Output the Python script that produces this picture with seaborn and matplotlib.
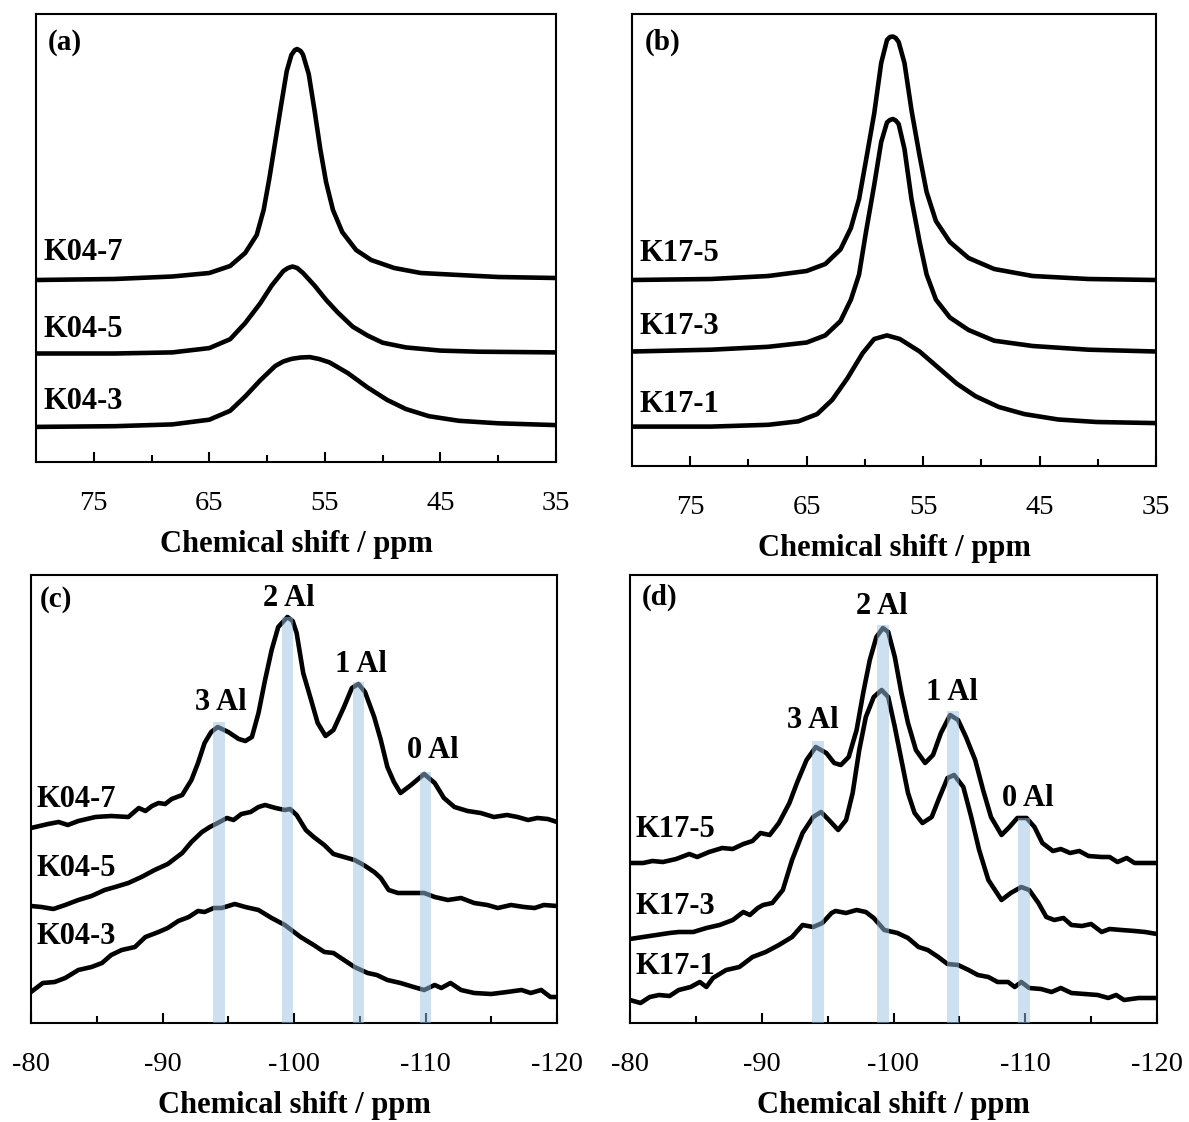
import matplotlib
matplotlib.use("Agg")
import matplotlib.pyplot as plt
import seaborn as sns
from matplotlib.ticker import FixedLocator

# ---- 27Al spectra, panel (a): K04 series ----
a_k04_7_ppm = [80.0, 73.2, 68.2, 65.0, 63.2, 61.9, 60.9, 60.3, 59.8, 59.3, 58.8, 58.3, 57.9, 57.6, 57.4,
               57.1, 56.9, 56.4, 55.9, 55.4, 54.9, 54.3, 53.5, 52.3, 51.0, 49.0, 46.7, 43.4, 40.0, 35.0]
a_k04_7_int = [182, 183, 185.5, 189, 196, 209, 227, 252, 284, 320, 356, 391, 407, 412, 413,
               411, 407.5, 388, 352, 313, 280, 252, 230, 212, 202, 194, 189, 187, 185, 184]
a_k04_5_ppm = [80.0, 73.2, 68.2, 65.0, 63.2, 61.9, 60.6, 59.6, 58.6, 58.2, 57.8, 57.4, 56.9, 55.9,
               54.9, 53.9, 52.6, 51.3, 50.0, 48.0, 45.0, 41.7, 35.0]
a_k04_5_int = [108.5, 108.5, 109.6, 113.9, 122.8, 138.9, 158.6, 176.5, 190.9, 194, 195.5, 194, 189.1, 176.5,
               162.2, 149.7, 135.4, 126.4, 119.3, 114.6, 111.4, 110.3, 109.6]
a_k04_3_ppm = [80.0, 73.2, 68.2, 65.0, 63.2, 61.9, 60.6, 59.3, 58.6, 57.9, 57.1, 56.3, 55.5, 54.6,
               53.0, 51.3, 49.6, 48.0, 46.0, 43.4, 40.0, 35.0]
a_k04_3_int = [35.1, 35.8, 37.6, 42.3, 51.2, 65.5, 81.6, 96.0, 100.5, 103.1, 104.5, 104.9, 103, 99.6,
               88.8, 74.5, 62.0, 53.0, 45.8, 41.2, 38.7, 36.9]

# ---- panel (b): K17 series ----
b_ppm = [80.0, 73.2, 68.3, 65.0, 63.4, 62.1, 61.2, 60.5, 59.9, 59.2, 58.6, 58.1, 57.85, 57.6, 57.35, 57.1,
         56.6, 56.0, 55.3, 54.7, 53.9, 52.7, 51.1, 48.9, 45.6, 40.8, 35.0]
b_k17_5_int = [186, 187, 190, 195, 202, 216.5, 238, 267, 306, 352.5, 403, 426, 429, 429.5, 428, 424,
               403, 356, 310, 274, 245, 224, 208, 197, 190, 187, 186]
b_k17_3_int = [114.5, 116.3, 119.2, 123.5, 130.6, 144.9, 166.4, 191.5, 234.4, 281, 324, 343.6, 346, 347, 345.5, 342,
               317, 267, 224, 191.5, 166.4, 148.5, 136, 125.3, 120, 116.3, 114.5]
b_k17_1_ppm = [80.0, 73.2, 68.3, 65.7, 64.1, 62.8, 61.5, 60.2, 59.2, 58.1, 57.0, 55.3, 53.7, 52.1,
               50.5, 48.5, 46.3, 43.4, 40.1, 35.0]
b_k17_1_int = [39.4, 39.4, 41.2, 44.7, 51.9, 66.2, 87.7, 112.7, 127, 130.6, 127, 114.5, 98.4, 82.3,
               69.8, 59, 51.9, 46.5, 44, 42.9]

# ---- 29Si spectra, panel (c): K04 series ----
c_k04_7_ppm = [-80.0, -81.3, -82.1, -82.8, -83.6, -84.9, -86.1, -87.4, -88.2, -88.7, -89.2, -89.7,
               -90.2, -90.7, -91.5, -92.2, -92.7, -93.2, -93.7, -94.2, -95.0, -95.8, -96.3, -96.8,
               -97.3, -97.8, -98.3, -98.8, -99.5, -99.9, -100.2, -100.7, -101.3, -101.8, -102.4, -103.0,
               -103.8, -104.4, -104.9, -105.4, -106.1, -106.6, -107.1, -107.6, -108.1, -108.9, -109.9,
               -110.7, -111.4, -112.2, -113.2, -114.2, -115.2, -116.2, -117.0, -117.8, -118.5, -119.3, -120.0]
c_k04_7_int = [195, 199, 201, 198, 202, 206, 207, 206, 215, 212, 217, 220,
               219, 224, 228, 243, 260, 280, 291, 296, 291, 284, 282, 286,
               310, 343, 373, 396, 406, 402, 390, 350, 323, 300, 287, 293,
               316, 335, 339, 331, 306, 283, 256, 241, 230, 238, 249,
               240, 225, 216, 212, 210, 206, 208, 206, 203, 205, 204, 201]
c_k04_5_ppm = [-80.0, -80.8, -81.7, -82.6, -83.6, -84.6, -85.6, -86.4, -87.4, -88.4, -89.4, -90.4,
               -91.5, -92.2, -93.0, -93.6, -94.2, -94.9, -95.4, -96.0, -96.7, -97.3, -97.8, -98.6,
               -99.3, -99.7, -100.2, -100.9, -101.5, -102.3, -103.0, -103.8, -104.6, -105.3, -106.1,
               -106.6, -107.2, -107.9, -108.6, -109.9, -110.7, -111.7, -112.7, -113.7, -114.7, -115.5,
               -116.5, -117.5, -118.3, -119.0, -120.0]
c_k04_5_int = [117, 116, 114, 118, 123, 127, 133, 136, 140, 146, 153, 159,
               170, 181, 191, 196, 200, 205, 203, 209, 211, 216, 218, 215,
               213, 214, 208, 193, 186, 178, 169, 166, 163, 158, 151,
               145, 133, 130, 130, 130, 126, 123, 125, 120, 118, 115,
               118, 116, 115, 118, 117]
c_k04_3_ppm = [-80.0, -80.9, -81.8, -82.6, -83.6, -84.6, -85.4, -86.1, -86.9, -87.9, -88.7, -89.7,
               -90.4, -91.2, -92.0, -92.7, -93.2, -93.9, -94.5, -95.5, -96.3, -97.3, -98.3, -99.3,
               -100.5, -101.5, -102.3, -103.0, -103.8, -104.6, -105.6, -106.3, -107.1, -108.1, -109.1,
               -109.9, -110.7, -111.2, -111.9, -112.7, -113.7, -115.0, -116.2, -117.3, -118.0, -118.8,
               -119.5, -120.0]
c_k04_3_int = [31, 40, 41, 45, 53, 56, 60, 68, 73, 76, 86, 91,
               95, 102, 106, 112, 111, 115, 115, 119, 116, 113, 105, 98,
               86, 78, 71, 70, 63, 56, 50, 48, 43, 40, 36,
               33, 38, 35, 40, 33, 30, 29, 31, 33, 30, 33,
               26, 26]

# ---- panel (d): K17 series ----
d_k17_5_ppm = [-80.0, -81.0, -81.7, -82.5, -83.5, -84.5, -85.1, -86.0, -87.0, -87.8, -88.6, -89.3,
               -89.9, -90.6, -91.3, -92.1, -92.7, -93.4, -94.1, -94.9, -95.5, -96.0, -96.6, -97.2,
               -97.7, -98.2, -98.7, -99.2, -99.6, -100.1, -100.6, -101.1, -101.7, -102.4, -103.0,
               -103.6, -104.3, -104.9, -105.5, -106.2, -106.8, -107.4, -108.2, -108.8, -109.4,
               -110.1, -110.7, -111.3, -112.1, -112.7, -113.4, -114.1, -114.8, -115.8, -116.4,
               -117.0, -117.7, -118.3, -119.1, -120.0]
d_k17_5_int = [160, 160, 162, 161, 164, 169, 166, 171, 175, 174, 179, 182,
               190, 188, 200, 220, 241, 263, 276, 270, 260, 258, 266, 293,
               330, 363, 386, 395, 391, 366, 330, 300, 273, 260, 268,
               290, 308, 303, 286, 263, 233, 206, 188, 196, 205,
               205, 196, 180, 172, 174, 170, 172, 167, 166, 166,
               161, 165, 160, 160, 160]
d_k17_3_ppm = [-80.0, -81.0, -82.0, -83.0, -83.7, -84.8, -85.8, -86.8, -87.8, -88.6, -89.1, -89.7,
               -90.1, -90.8, -91.6, -92.3, -93.1, -93.9, -94.5, -95.1, -95.8, -96.4, -96.9, -97.4,
               -97.9, -98.5, -99.1, -99.6, -100.1, -100.6, -101.1, -101.6, -102.2, -102.9, -103.5,
               -104.1, -104.6, -105.3, -105.9, -106.5, -107.2, -107.7, -108.2, -108.9, -109.7,
               -110.3, -111.0, -111.6, -112.2, -112.9, -113.5, -114.3, -115.0, -115.8, -116.4,
               -117.3, -118.3, -119.1, -120.0]
d_k17_3_int = [84, 86, 88, 90, 91, 91, 95, 98, 103, 111, 108, 115,
               118, 120, 133, 163, 190, 206, 211, 203, 193, 203, 230, 273,
               306, 326, 333, 326, 296, 263, 230, 210, 200, 206, 226,
               245, 248, 236, 206, 173, 143, 133, 123, 130, 136,
               133, 120, 106, 103, 105, 98, 97, 99, 91, 94,
               93, 92, 91, 89]
d_k17_1_ppm = [-80.0, -80.8, -81.5, -82.2, -83.0, -83.7, -84.6, -85.3, -85.8, -86.3, -87.3, -88.3,
               -89.3, -90.3, -91.3, -92.3, -93.1, -93.9, -94.6, -95.3, -95.6, -96.4, -97.2, -97.9,
               -98.5, -99.3, -100.3, -101.1, -101.9, -102.6, -103.4, -104.1, -104.9, -105.7, -106.4,
               -107.2, -107.9, -108.7, -109.2, -109.7, -110.3, -111.2, -112.0, -112.7, -113.5,
               -114.5, -115.5, -116.3, -116.9, -117.5, -118.6, -120.0]
d_k17_1_int = [23, 20, 26, 28, 27, 33, 36, 41, 36, 45, 53, 56,
               66, 71, 78, 86, 98, 96, 100, 110, 112, 110, 113, 111,
               105, 93, 90, 85, 76, 73, 66, 59, 58, 53, 48,
               46, 41, 41, 36, 41, 35, 34, 31, 35, 30,
               29, 28, 25, 28, 23, 25, 25]

# Q4(nAl) assignments
peak_labels = ["3 Al", "2 Al", "1 Al", "0 Al"]
c_peak_ppm = [-94.3, -99.5, -104.9, -110.0]
c_band_top = [301, 406, 341, 251]
c_label_pos = [(-94.4, 321), (-99.6, 425), (-105.1, 359), (-110.55, 272)]
d_peak_ppm = [-94.3, -99.2, -104.5, -109.9]
d_band_top = [282, 398, 312, 205]
d_label_pos = [(-93.9, 302), (-99.1, 417), (-104.4, 330), (-110.2, 224)]

sns.set_style("ticks")
plt.rcParams["font.family"] = ["Liberation Serif", "DejaVu Serif"]
plt.rcParams["text.color"] = "black"
plt.rcParams["axes.labelcolor"] = "black"
plt.rcParams["xtick.color"] = "black"

W, H = 1189, 1122
fig = plt.figure(figsize=(W / 100, H / 100), dpi=100)


def make_ax(left, right, top, bottom):
    return fig.add_axes([left / W, 1 - bottom / H, (right - left) / W, (bottom - top) / H])


ax_a = make_ax(36, 556, 14, 462)
ax_b = make_ax(632, 1156, 14, 466)
ax_c = make_ax(31, 557, 575, 1023)
ax_d = make_ax(630, 1157, 575, 1023)

line_kw = dict(color="black", linewidth=3.3, estimator=None, sort=False)


def style(ax, xlim, ymax, major, minor):
    ax.set_xlim(*xlim)
    ax.set_ylim(0, ymax)
    ax.set_yticks([])
    ax.xaxis.set_major_locator(FixedLocator(major))
    ax.xaxis.set_minor_locator(FixedLocator(minor))
    ax.set_xticklabels([f"{v:g}" for v in major])
    ax.tick_params(axis="x", which="major", direction="in", length=7.5, width=1.5,
                   labelsize=20.5, pad=21, colors="black")
    ax.tick_params(axis="x", which="minor", direction="in", length=5, width=1.5)
    for s in ax.spines.values():
        s.set_visible(True)
        s.set_linewidth(1.5)
        s.set_color("black")
    ax.set_xlabel("Chemical shift / ppm", fontsize=22, fontweight="bold", labelpad=10, color="black")
    ax.set_ylabel("")


txt_kw = dict(fontsize=22, fontweight="bold", color="black")

# (a)
for x, y in [(a_k04_7_ppm, a_k04_7_int), (a_k04_5_ppm, a_k04_5_int), (a_k04_3_ppm, a_k04_3_int)]:
    sns.lineplot(x=x, y=y, ax=ax_a, **line_kw)
style(ax_a, (80, 35), 448, [75, 65, 55, 45, 35], [70, 60, 50, 40])
ax_a.text(0.023, 0.937, "(a)", transform=ax_a.transAxes, va="center", fontsize=21, fontweight="bold")
for name, yy in [("K04-7", 0.467), ("K04-5", 0.295), ("K04-3", 0.134)]:
    ax_a.text(0.015, yy, name, transform=ax_a.transAxes, va="center", **txt_kw)

# (b)
for x, y in [(b_ppm, b_k17_5_int), (b_ppm, b_k17_3_int), (b_k17_1_ppm, b_k17_1_int)]:
    sns.lineplot(x=x, y=y, ax=ax_b, **line_kw)
style(ax_b, (80, 35), 452, [75, 65, 55, 45, 35], [70, 60, 50, 40])
ax_b.text(0.025, 0.938, "(b)", transform=ax_b.transAxes, va="center", fontsize=21, fontweight="bold")
for name, yy in [("K17-5", 0.471), ("K17-3", 0.308), ("K17-1", 0.137)]:
    ax_b.text(0.015, yy, name, transform=ax_b.transAxes, va="center", **txt_kw)

# (c)
for x, y in [(c_k04_7_ppm, c_k04_7_int), (c_k04_5_ppm, c_k04_5_int), (c_k04_3_ppm, c_k04_3_int)]:
    sns.lineplot(x=x, y=y, ax=ax_c, **line_kw)
ax_c.bar(c_peak_ppm, c_band_top, width=0.9, color="#9DC3E6", alpha=0.5, zorder=4, linewidth=0)
style(ax_c, (-80, -120), 448, [-80, -90, -100, -110, -120], [-85, -95, -105, -115])
ax_c.text(0.017, 0.945, "(c)", transform=ax_c.transAxes, va="center", fontsize=21, fontweight="bold")
for name, yy in [("K04-7", 0.498), ("K04-5", 0.344), ("K04-3", 0.194)]:
    ax_c.text(0.01, yy, name, transform=ax_c.transAxes, va="center", **txt_kw)
for lab, (px, py) in zip(peak_labels, c_label_pos):
    ax_c.text(px, py, lab, ha="center", va="center", **txt_kw)

# (d)
for x, y in [(d_k17_5_ppm, d_k17_5_int), (d_k17_3_ppm, d_k17_3_int), (d_k17_1_ppm, d_k17_1_int)]:
    sns.lineplot(x=x, y=y, ax=ax_d, **line_kw)
ax_d.bar(d_peak_ppm, d_band_top, width=0.9, color="#9DC3E6", alpha=0.5, zorder=4, linewidth=0)
style(ax_d, (-80, -120), 448, [-80, -90, -100, -110, -120], [-85, -95, -105, -115])
ax_d.text(0.022, 0.95, "(d)", transform=ax_d.transAxes, va="center", fontsize=21, fontweight="bold")
for name, yy in [("K17-5", 0.433), ("K17-3", 0.261), ("K17-1", 0.127)]:
    ax_d.text(0.011, yy, name, transform=ax_d.transAxes, va="center", **txt_kw)
for lab, (px, py) in zip(peak_labels, d_label_pos):
    ax_d.text(px, py, lab, ha="center", va="center", **txt_kw)

for ax in (ax_a, ax_b, ax_c, ax_d):
    for ln in ax.get_lines():
        ln.set_solid_joinstyle("round")
        ln.set_solid_capstyle("round")

fig.savefig("out.png", dpi=100)
